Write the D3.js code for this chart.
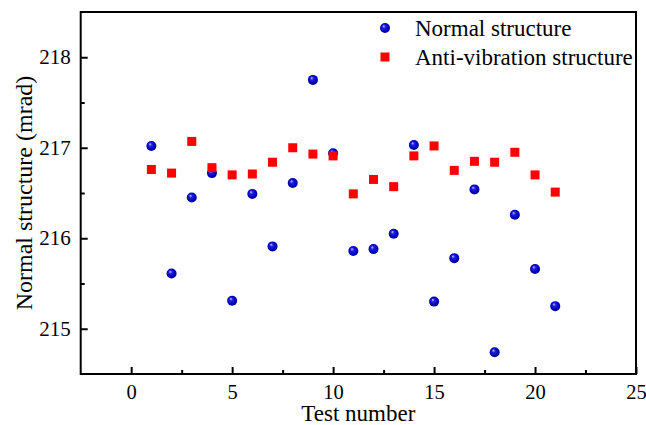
<!DOCTYPE html>
<html><head><meta charset="utf-8">
<script src="https://cdn.jsdelivr.net/npm/d3@7/dist/d3.min.js"></script>
<style>body{margin:0;background:#fff}svg{display:block}
svg text{font-family:"Liberation Serif","Tinos","Times New Roman","DejaVu Serif",serif;fill:#000}</style>
</head><body>
<svg id="c" width="646" height="425"></svg>
<script>
const testNumbers = [1,2,3,4,5,6,7,8,9,10,11,12,13,14,15,16,17,18,19,20,21];
const normalValues = [217.02,215.61,216.45,216.72,215.31,216.49,215.91,216.61,217.75,216.94,215.86,215.88,216.05,217.03,215.30,215.78,216.54,214.74,216.26,215.66,215.25];
const antiVibValues = [216.76,216.72,217.07,216.78,216.70,216.71,216.84,217.00,216.93,216.91,216.49,216.65,216.57,216.91,217.02,216.75,216.85,216.84,216.95,216.70,216.51];
const xTicks = [0,5,10,15,20,25];
const yTicks = [215,216,217,218];
const seriesNames = ["Normal structure","Anti-vibration structure"];

const svg = d3.select("#c");
const m = {l:80.7, r:636, t:12, b:374};
const x = d3.scaleLinear().domain([-2.5,25]).range([m.l,m.r]);
const y = d3.scaleLinear().domain([214.5,218.5]).range([m.b,m.t]);

const defs = svg.append("defs");
const g = defs.append("radialGradient").attr("id","ball").attr("cx","50%").attr("cy","50%").attr("r","55%").attr("fx","35%").attr("fy","30%");
g.append("stop").attr("offset","0%").attr("stop-color","#c8c8ff");
g.append("stop").attr("offset","30%").attr("stop-color","#2020e0");
g.append("stop").attr("offset","75%").attr("stop-color","#0000b8");
g.append("stop").attr("offset","100%").attr("stop-color","#00007a");

// frame
svg.append("rect").attr("x",m.l).attr("y",m.t).attr("width",m.r-m.l).attr("height",m.b-m.t)
  .attr("fill","none").attr("stroke","#000").attr("stroke-width",2);

// x axis
const xa = svg.append("g").attr("transform",`translate(0,${m.b})`)
  .call(d3.axisBottom(x).tickValues(xTicks).tickSizeInner(-7).tickSizeOuter(0).tickPadding(10).tickFormat(d3.format("d")));
xa.select(".domain").remove();
xa.selectAll("line").attr("stroke-width",2);
xa.selectAll("text").attr("font-size",20.5).attr("dy","0.71em");
const xMinor = d3.range(2.5,25,5);
svg.append("g").attr("transform",`translate(0,${m.b})`)
  .call(d3.axisBottom(x).tickValues(xMinor).tickSizeInner(-4).tickSizeOuter(0).tickFormat(""))
  .call(s=>{s.select(".domain").remove(); s.selectAll("line").attr("stroke-width",2);});

// y axis
const ya = svg.append("g").attr("transform",`translate(${m.l},0)`)
  .call(d3.axisLeft(y).tickValues(yTicks).tickSizeInner(-7).tickSizeOuter(0).tickPadding(10).tickFormat(d3.format("d")));
ya.select(".domain").remove();
ya.selectAll("line").attr("stroke-width",2);
ya.selectAll("text").attr("font-size",21);
const yMinor = [215.5,216.5,217.5];
svg.append("g").attr("transform",`translate(${m.l},0)`)
  .call(d3.axisLeft(y).tickValues(yMinor).tickSizeInner(-4).tickSizeOuter(0).tickFormat(""))
  .call(s=>{s.select(".domain").remove(); s.selectAll("line").attr("stroke-width",2);});

// titles
svg.append("text").attr("x",(m.l+m.r)/2).attr("y",420.5).attr("text-anchor","middle")
  .attr("font-size",23).text("Test number");
svg.append("text").attr("transform",`translate(32,${(m.t+m.b)/2}) rotate(-90)`).attr("text-anchor","middle")
  .attr("font-size",24).text("Normal structure (mrad)");

// points
svg.append("g").selectAll("circle").data(testNumbers).join("circle")
  .attr("cx",(d)=>x(d)).attr("cy",(d,i)=>y(normalValues[i])).attr("r",5).attr("fill","url(#ball)");
const sq = 9;
svg.append("g").selectAll("rect").data(testNumbers).join("rect")
  .attr("x",d=>x(d)-sq/2).attr("y",(d,i)=>y(antiVibValues[i])-sq/2).attr("width",sq).attr("height",sq).attr("fill","#ff0000");

// legend
const lg = svg.append("g");
lg.append("circle").attr("cx",385).attr("cy",28).attr("r",5).attr("fill","url(#ball)");
lg.append("rect").attr("x",385-sq/2).attr("y",57-sq/2).attr("width",sq).attr("height",sq).attr("fill","#ff0000");
lg.append("text").attr("x",415).attr("y",28).attr("dy","0.35em").attr("font-size",23).text(seriesNames[0]);
lg.append("text").attr("x",415).attr("y",57).attr("dy","0.35em").attr("font-size",23).text(seriesNames[1]);
</script>
</body></html>
